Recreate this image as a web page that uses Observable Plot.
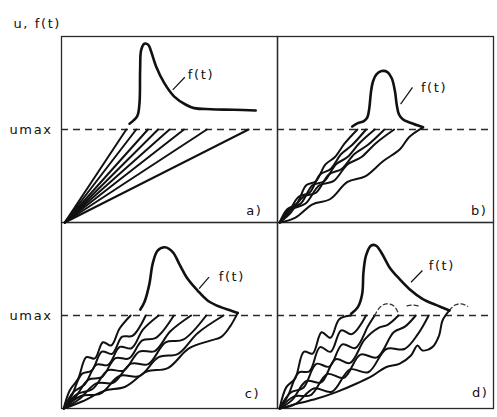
<!DOCTYPE html>
<html>
<head>
<meta charset="utf-8">
<script src="https://cdn.jsdelivr.net/npm/d3@7"></script>
<script src="https://cdn.jsdelivr.net/npm/@observablehq/plot@0.6"></script>
<style>
  body { margin: 0; background: #fff; }
  #chart svg text { letter-spacing: 1.6px; }
</style>
</head>
<body>
<div id="chart"></div>
<script>
// Level at which the response is cut off (dashed line)
const UMAX = 50;

// Panel layout: a | b over c | d
const panelCol = {a: "L", b: "R", c: "L", d: "R"};
const panelRow = {a: "T", b: "T", c: "B", d: "B"};

// a) straight ramps from the origin, ending on umax at these times
const rampStart = [1.5, 0];
const rampEnds = [30, 34.6, 40, 44.7, 50, 56.7, 67.3, 86.6];

// Forcing functions f(t), [t, value]
const forceA = [[31.5,53.1],[35,57],[36.1,64.1],[36.4,82.1],[36.9,92.8],[38.4,96.1],[40.2,95.5],[41.5,91.9],[43.8,83.9],[47.6,74.9],[52.2,67.7],[57.6,63.3],[61.4,61.5],[69.1,60.9],[79.9,60.6],[89.9,60.2]];
const forceB = [[34.6,51.6],[37.2,53.4],[40,54.5],[41.6,56.5],[42.5,61.5],[43.3,70.4],[44.2,75.8],[45.8,79.6],[48.2,81.4],[50.9,80.9],[52.9,77.6],[54.4,70.4],[55.2,63.3],[56.2,58.2],[58,55.5],[61.5,53.6],[67.4,51.2]];
const forceC = [[36.5,53.2],[38.4,57.2],[40.7,67],[42.2,77.8],[44.5,84.9],[47.9,86.7],[51.5,84.1],[54.5,77.8],[58.4,69.7],[63,63.4],[67.6,58.1],[73.7,54.5],[78.3,52.7],[81.6,51.4]];
const forceD = [[34.1,50.9],[37.2,54.5],[39.2,61.6],[39.8,73.3],[41,82.3],[43.3,87.6],[45.6,87.6],[48.4,83.2],[51.8,76],[56.4,69.7],[61,64.3],[67.1,59],[73.3,55.7],[79.6,52.7]];

// b) response paths u(t), [t, u]
const pathsB = [
  [[1,0],[4.4,7],[8.9,10.2],[13.3,20],[17.8,22.2],[22.2,31.2],[26.6,35.2],[31.1,42.5],[37,50]],
  [[1,0],[4.9,5],[9.8,13.8],[14.8,16],[19.7,25.8],[24.6,28.8],[29.5,36.8],[34.4,41.5],[41,50]],
  [[1,0],[5.4,7],[10.8,10.2],[16.2,20],[21.6,22.2],[27,31.2],[32.4,35.2],[37.8,42.5],[45,50]],
  [[1,0],[5.9,5],[11.9,13.8],[17.8,16],[23.8,25.8],[29.7,28.8],[35.6,36.8],[41.6,41.5],[49.5,50]],
  [[1,0],[6.5,7],[13,10.2],[19.4,20],[25.9,22.2],[32.4,31.2],[38.9,35.2],[45.4,42.5],[54,50]],
  [[1,0],[8.1,2.5],[16.2,9.8],[24.3,12.5],[32.4,21.8],[40.6,24.8],[48.7,32.8],[56.8,39.5],[61,46],[67.4,51.2]]
];

// c) response paths u(t), [t, u]
const pathsC = [
  [[1,0],[3.8,9.7],[7.7,16],[11.5,27.6],[15.4,26.9],[19.2,35.6],[23,33.9],[26.9,43],[32,50]],
  [[1,0],[4.7,6.8],[9.4,18.5],[14,20.4],[18.7,30.6],[23.4,29.4],[28.1,38.6],[32.8,39],[39,50]],
  [[1,0],[5.4,8.7],[10.8,13],[16.2,23.6],[21.6,23.4],[27,33.1],[32.4,32.4],[37.8,42.5],[45,50]],
  [[1,0],[6.2,5.8],[12.5,15.5],[18.7,16.9],[25,27.1],[31.2,26.9],[37.4,36.6],[43.7,38],[52,50]],
  [[1,0],[7.2,7.7],[14.4,10.5],[21.6,20.6],[28.8,20.4],[36,30.6],[43.2,30.9],[50.4,41.5],[60,50]],
  [[1,0],[8,4.8],[16.1,13.5],[24.1,13.9],[32.2,24.1],[40.2,23.9],[48.2,35.6],[56.3,37],[67,50]],
  [[1,0],[9,6.7],[18,8],[27,17.6],[36,17.4],[45,27.6],[54,29.4],[63,40.5],[75,50]],
  [[1,0],[9.8,3.9],[19.7,9.5],[29.5,11.7],[39.4,19.8],[49.2,21.7],[59,32.3],[68.9,36.5],[74,38.5],[78,44],[81.6,51.4]]
];

// d) response paths u(t), [t, u]
const pathsD = [
  [[1,0],[4.1,11.5],[8.2,16.2],[12.2,30.5],[16.3,29.5],[20.4,41],[24.5,38],[28.6,48],[34,50]],
  [[1,0],[4.9,7],[9.8,19.3],[14.8,20],[19.7,33],[24.6,30.5],[29.5,42],[34.4,40],[41,50]],
  [[1,0],[6,8.5],[12,11.2],[18,24],[24,22.5],[30,34.5],[36,32.5],[42,44.5],[45,50]],
  [[1,0],[6.7,4.5],[13.4,14.8],[20.2,14],[26.9,26.5],[33.6,24.5],[40.3,37],[47,43.5],[51,45],[56,50]],
  [[1,0],[7.7,6.5],[15.4,7.2],[23,18.5],[30.7,16.5],[38.4,29],[46.1,27.5],[53.8,41],[59,44],[64,50]],
  [[1,0],[8.4,2.5],[16.8,10.8],[25.2,9],[33.6,21],[42,19.5],[50.4,32],[58.8,32],[65,40],[70,50]],
  [[1,0],[8.8,2.5],[18,5.2],[27.2,8.8],[36.4,13.3],[44.1,17.7],[50.2,22.2],[56.4,24],[61.8,28.5],[64.8,33.9],[67.1,31.2],[71.7,33],[74.8,39.2],[76.4,47.3],[79.6,52.7]]
];

// d) overshoot above umax (dashed)
const overshootD = [
  [[45,50],[47.5,54.5],[50.5,56.3],[54,55],[56,51]],
  [[60,55.2],[63,55.6],[66,54.8]],
  [[79.6,52.7],[82,55.5],[85,56.3],[88,55]]
];

// "f(t)" labels: text anchor and leader line, per panel
const forceLabels = [
  {p: "a", t: 58.5, u: 79.6, t1: 51.5, u1: 71.3, t2: 57.1, u2: 78.1},
  {p: "b", t: 66.4, u: 72.6, t1: 57, u1: 63.6, t2: 62.5, u2: 72.6},
  {p: "c", t: 72.8, u: 70.6, t1: 63.7, u1: 64.4, t2: 68.3, u2: 70.6},
  {p: "d", t: 70.0, u: 76.9, t1: 61.8, u1: 67.9, t2: 67.1, u2: 74.2}
];

// Panel tags in the lower-right corners
const panelTags = [
  {p: "a", text: "a)", t: 93, u: 6.5},
  {p: "b", text: "b)", t: 97.2, u: 6.5},
  {p: "c", text: "c)", t: 92, u: 8},
  {p: "d", text: "d)", t: 97.7, u: 8.6}
];

// ---- flatten into tables for the marks ----
const toRows = (p, paths) =>
  paths.flatMap((path, i) => path.map(([t, u]) => ({p, id: `${p}${i}`, t, u})));

const ramps = rampEnds.flatMap((e, i) => [
  {p: "a", id: `r${i}`, t: rampStart[0], u: rampStart[1]},
  {p: "a", id: `r${i}`, t: e, u: UMAX}
]);
const forces = [
  ...toRows("a", [forceA]), ...toRows("b", [forceB]),
  ...toRows("c", [forceC]), ...toRows("d", [forceD])
];
const responses = [...toRows("b", pathsB), ...toRows("c", pathsC), ...toRows("d", pathsD)];
const overshoot = toRows("d", overshootD);

const fx = d => panelCol[d.p];
const fy = d => panelRow[d.p];
const ink = "#111";

const chart = Plot.plot({
  width: 497,
  height: 417,
  marginLeft: 60,
  marginTop: 36,
  marginRight: 4,
  marginBottom: 9,
  style: {fontFamily: "DejaVu Sans", fontSize: "13px", color: ink, background: "#fff"},
  fx: {domain: ["L", "R"], padding: 0, axis: null},
  fy: {domain: ["T", "B"], padding: 0, axis: null},
  x: {domain: [0, 100], axis: null},
  y: {domain: [0, 100], axis: null},
  marks: [
    Plot.frame({stroke: "#2a2a2a", strokeWidth: 1.3}),
    Plot.ruleY([UMAX], {stroke: "#2a2a2a", strokeWidth: 1.5, strokeDasharray: "7,5"}),
    Plot.line(ramps, {x: "t", y: "u", z: "id", fx, fy, stroke: ink, strokeWidth: 2}),
    Plot.line(responses, {x: "t", y: "u", z: "id", fx, fy, stroke: ink, strokeWidth: 2, curve: "catmull-rom"}),
    Plot.line(overshoot, {x: "t", y: "u", z: "id", fx, fy, stroke: "#333", strokeWidth: 1.3, strokeDasharray: "4,3", curve: "catmull-rom"}),
    Plot.line(forces, {x: "t", y: "u", z: "id", fx, fy, stroke: ink, strokeWidth: 2.6, curve: "catmull-rom"}),
    Plot.link(forceLabels, {x1: "t1", y1: "u1", x2: "t2", y2: "u2", fx, fy, stroke: ink, strokeWidth: 1.2}),
    Plot.text(forceLabels, {x: "t", y: "u", fx, fy, text: () => "f(t)", textAnchor: "start", fontSize: 13, fill: ink}),
    Plot.text(panelTags, {x: "t", y: "u", fx, fy, text: "text", textAnchor: "end", fontSize: 13, fill: ink}),
    Plot.text([{p: "a"}, {p: "c"}], {x: () => 0, y: () => UMAX, fx, fy, text: () => "umax", textAnchor: "end", dx: -9, fontSize: 13, fill: ink}),
    Plot.text([{p: "a"}], {x: () => 0, y: () => 100, fx, fy, text: () => "u, f(t)", textAnchor: "start", dx: -48, dy: -13, fontSize: 13, fill: ink})
  ]
});

document.getElementById("chart").appendChild(chart);
</script>
</body>
</html>
